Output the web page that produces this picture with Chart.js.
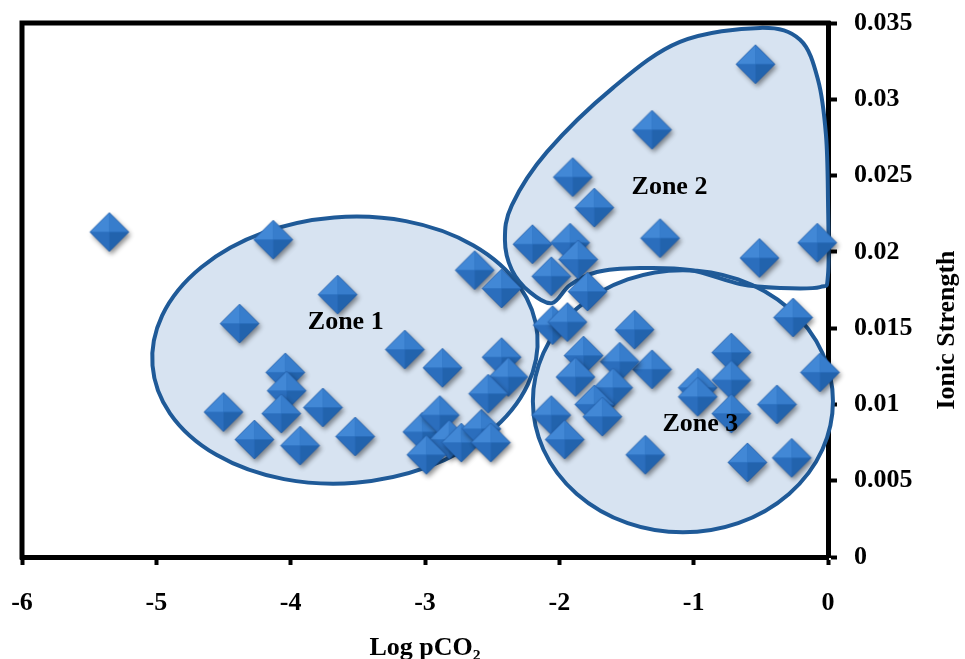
<!DOCTYPE html>
<html>
<head>
<meta charset="utf-8">
<script src="https://cdn.jsdelivr.net/npm/chart.js@4.4.1/dist/chart.umd.min.js"></script>
<style>
  html, body { margin: 0; padding: 0; background: #ffffff; }
  #c { display: block; }
</style>
</head>
<body>
<canvas id="c" width="965" height="659"></canvas>
<script>
// ---------- DATA ----------
const logPCO2 = [
  -5.35, -4.13, -3.65, -4.38, -3.15, -2.87, -4.04, -4.03, -4.50, -4.07,
  -3.76, -4.27, -3.93, -3.52, -3.02, -2.89, -2.82, -2.99, -2.73, -2.58,
  -2.51, -2.63, -2.43, -2.43, -2.38, -2.53,
  -0.54, -1.31, -1.90, -1.74, -1.25, -0.51, -0.08, -2.20, -1.92, -1.86,
  -2.06, -1.79,
  -2.05, -1.94, -0.26, -0.06, -1.44, -0.72, -1.31, -1.55, -1.82, -1.88,
  -1.60, -1.74, -1.68, -0.97, -0.97, -0.72, -0.72, -0.38, -2.06, -1.96,
  -1.36, -0.60, -0.27
];
const ionicStrength = [
  0.0213, 0.0208, 0.0172, 0.0153, 0.0136, 0.0124, 0.0121, 0.0109, 0.0095, 0.0094,
  0.0098, 0.0077, 0.0073, 0.0079, 0.0082, 0.0093, 0.0077, 0.0067, 0.0075, 0.0084,
  0.0075, 0.0188, 0.0176, 0.0131, 0.0118, 0.0107,
  0.0323, 0.0280, 0.0249, 0.0229, 0.0209, 0.0196, 0.0206, 0.0205, 0.0206, 0.0195,
  0.0184, 0.0174,
  0.0152, 0.0154, 0.0157, 0.0121, 0.0149, 0.0134, 0.0123, 0.0128, 0.0132, 0.0118,
  0.0111, 0.0100, 0.0092, 0.0111, 0.0105, 0.0116, 0.0094, 0.0100, 0.0093, 0.0077,
  0.0067, 0.0062, 0.0065
];

const xTickValues = [-6, -5, -4, -3, -2, -1, 0];
const xTickLabels = ['-6', '-5', '-4', '-3', '-2', '-1', '0'];
const yTickValues = [0, 0.005, 0.01, 0.015, 0.02, 0.025, 0.03, 0.035];
const yTickLabels = ['0', '0.005', '0.01', '0.015', '0.02', '0.025', '0.03', '0.035'];

const xTitle = 'Log pCO\u2082';
const yTitle = 'Ionic Strength';

// Zone annotations (data units)
const zoneNames = ['Zone 1', 'Zone 2', 'Zone 3'];
const zoneLabelX = [-3.59, -1.18, -0.95];
const zoneLabelY = [0.01536, 0.02422, 0.00871];
// ellipses: [centre x, centre y, radius x, radius y]
const zone1Ellipse = [-3.596, 0.01356, 1.437, 0.00872];
const zone3Ellipse = [-1.08, 0.01021, 1.117, 0.00859];
// zone 2 outline (closed smooth curve through these points)
const zone2OutlineX = [-0.506, -0.208, -0.074, -0.015, 0.0, 0.0, -0.060, -0.357, -0.655, -1.028,
  -1.400, -1.720, -1.921, -2.055, -2.219, -2.353, -2.405, -2.353, -2.092, -1.601, -1.102];
const zone2OutlineY = [0.03468, 0.03390, 0.03127, 0.02766, 0.02340, 0.01848, 0.01769, 0.01763, 0.01789, 0.01881,
  0.01894, 0.01868, 0.01782, 0.01664, 0.01736, 0.01881, 0.02078, 0.02307, 0.02655, 0.03075, 0.03376];

// ---------- STYLE ----------
const FONT = "'Liberation Serif', 'Times New Roman', serif";

function makeDiamond(r) {
  const pad = 9;
  const size = Math.ceil(2 * (r + pad));
  const c = document.createElement('canvas');
  c.width = size; c.height = size;
  const g = c.getContext('2d');
  const cx = size / 2, cy = size / 2;
  const T = [cx, cy - r], R = [cx + r, cy], B = [cx, cy + r], L = [cx - r, cy], C = [cx, cy];
  g.save();
  g.shadowColor = 'rgba(0,0,0,0.45)';
  g.shadowBlur = 5;
  g.shadowOffsetX = 2;
  g.shadowOffsetY = 3;
  g.beginPath(); g.moveTo(...T); g.lineTo(...R); g.lineTo(...B); g.lineTo(...L); g.closePath();
  g.fillStyle = '#2d70c0';
  g.fill();
  g.restore();
  const tri = (a, b, col) => {
    g.beginPath(); g.moveTo(...a); g.lineTo(...b); g.lineTo(...C); g.closePath();
    g.fillStyle = col; g.fill();
  };
  tri(L, T, '#4288d6');
  tri(T, R, '#377dcc');
  tri(L, B, '#2b6ebd');
  tri(B, R, '#2263ad');
  g.beginPath(); g.moveTo(...T); g.lineTo(...R); g.lineTo(...B); g.lineTo(...L); g.closePath();
  g.strokeStyle = 'rgba(30,80,150,0.6)'; g.lineWidth = 0.8; g.stroke();
  return c;
}
const diamond = makeDiamond(19.5);

function closedSplinePath(pts) {
  const p = new Path2D();
  const n = pts.length;
  p.moveTo(pts[0][0], pts[0][1]);
  for (let i = 0; i < n; i++) {
    const p0 = pts[(i - 1 + n) % n], p1 = pts[i], p2 = pts[(i + 1) % n], p3 = pts[(i + 2) % n];
    const c1x = p1[0] + (p2[0] - p0[0]) / 6, c1y = p1[1] + (p2[1] - p0[1]) / 6;
    const c2x = p2[0] - (p3[0] - p1[0]) / 6, c2y = p2[1] - (p3[1] - p1[1]) / 6;
    p.bezierCurveTo(c1x, c1y, c2x, c2y, p2[0], p2[1]);
  }
  p.closePath();
  return p;
}

const zonesPlugin = {
  id: 'zones',
  beforeDatasetsDraw(chart) {
    const { ctx, scales: { x, y } } = chart;
    const paths = [];
    const ell = (e, rot) => {
      const cx = x.getPixelForValue(e[0]), cy = y.getPixelForValue(e[1]);
      const rx = Math.abs(x.getPixelForValue(e[0] + e[2]) - cx);
      const ry = Math.abs(y.getPixelForValue(e[1] + e[3]) - cy);
      const p = new Path2D();
      p.ellipse(cx, cy, rx, ry, rot, 0, Math.PI * 2);
      return p;
    };
    paths.push(ell(zone1Ellipse, -0.08));
    const pts = zone2OutlineX.map((v, i) => [x.getPixelForValue(v), y.getPixelForValue(zone2OutlineY[i])]);
    paths.push(closedSplinePath(pts));
    paths.push(ell(zone3Ellipse, 0));
    ctx.save();
    ctx.fillStyle = '#d7e3f1';
    paths.forEach(p => ctx.fill(p));
    ctx.strokeStyle = '#1f5a98';
    ctx.lineWidth = 4;
    paths.forEach(p => ctx.stroke(p));
    ctx.restore();
  },
  afterDatasetsDraw(chart) {
    const { ctx, scales: { x, y } } = chart;
    ctx.save();
    ctx.fillStyle = '#000';
    ctx.font = 'bold 26px ' + FONT;
    ctx.textAlign = 'center';
    ctx.textBaseline = 'middle';
    zoneNames.forEach((t, i) => {
      ctx.fillText(t, x.getPixelForValue(zoneLabelX[i]), y.getPixelForValue(zoneLabelY[i]));
    });
    ctx.restore();
  }
};

const framePlugin = {
  id: 'frame',
  afterDraw(chart) {
    const { ctx, chartArea: a } = chart;
    ctx.save();
    ctx.strokeStyle = '#000';
    ctx.lineWidth = 5;
    ctx.beginPath();
    ctx.moveTo(a.left, a.bottom + 2.5);
    ctx.lineTo(a.left, a.top);
    ctx.lineTo(a.right + 2.5, a.top);
    ctx.stroke();
    // axis titles
    ctx.fillStyle = '#000';
    ctx.font = 'bold 26px ' + FONT;
    ctx.textAlign = 'center';
    ctx.textBaseline = 'alphabetic';
    ctx.fillText(xTitle, (a.left + a.right) / 2, 655);
    ctx.translate(947, 330);
    ctx.rotate(-Math.PI / 2);
    ctx.textBaseline = 'middle';
    ctx.fillText(yTitle, 0, 0);
    ctx.restore();
  }
};

new Chart(document.getElementById('c'), {
  type: 'scatter',
  data: {
    datasets: [{
      label: 'Ionic Strength',
      data: logPCO2.map((v, i) => ({ x: v, y: ionicStrength[i] })),
      pointStyle: diamond,
      pointRadius: 19,
      pointHoverRadius: 19,
      clip: false
    }]
  },
  options: {
    responsive: false,
    devicePixelRatio: 1,
    animation: false,
    events: [],
    layout: { autoPadding: false, padding: { left: 22, top: 23, right: 0, bottom: 0 } },
    plugins: { legend: { display: false }, tooltip: { enabled: false } },
    scales: {
      x: {
        type: 'linear',
        position: 'bottom',
        min: -6, max: 0,
        afterBuildTicks: s => { s.ticks = xTickValues.map(v => ({ value: v })); },
        afterFit: s => { s.height = 102; s.paddingLeft = 0; s.paddingRight = 0; },
        ticks: {
          callback: (v) => xTickLabels[xTickValues.indexOf(v)],
          font: { family: FONT, size: 26, weight: 'bold' },
          color: '#000',
          padding: 23,
          maxRotation: 0
        },
        grid: { display: true, drawOnChartArea: false, drawTicks: true, tickLength: 8, tickWidth: 4, tickColor: '#000' },
        border: { display: true, color: '#000', width: 5 }
      },
      y: {
        type: 'linear',
        position: 'right',
        min: 0, max: 0.035,
        afterBuildTicks: s => { s.ticks = yTickValues.map(v => ({ value: v })); },
        afterFit: s => { s.width = 137; s.paddingTop = 0; s.paddingBottom = 0; },
        ticks: {
          callback: (v) => yTickLabels[yTickValues.indexOf(v)],
          font: { family: FONT, size: 26, weight: 'bold' },
          color: '#000',
          padding: 17
        },
        grid: { display: true, drawOnChartArea: false, drawTicks: true, tickLength: 9, tickWidth: 4, tickColor: '#000' },
        border: { display: true, color: '#000', width: 5 }
      }
    }
  },
  plugins: [zonesPlugin, framePlugin]
});
</script>
</body>
</html>
